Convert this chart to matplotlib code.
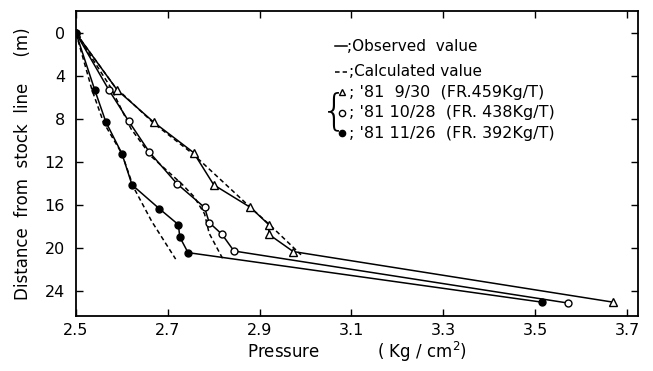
import numpy as np
import matplotlib.pyplot as plt

# observed values (pressure, distance)
obs_0930_p = [2.50, 2.59, 2.67, 2.756, 2.80, 2.88, 2.92, 2.92, 2.973, 3.669]
obs_0930_d = [0.0, 5.3, 8.3, 11.1, 14.1, 16.2, 17.8, 18.7, 20.3, 25.0]
obs_1028_p = [2.50, 2.571, 2.615, 2.66, 2.72, 2.78, 2.79, 2.818, 2.844, 3.572]
obs_1028_d = [0.0, 5.24, 8.2, 11.07, 14.0, 16.2, 17.6, 18.7, 20.25, 25.09]
obs_1126_p = [2.50, 2.541, 2.565, 2.60, 2.622, 2.681, 2.723, 2.726, 2.744, 3.514]
obs_1126_d = [0.0, 5.3, 8.25, 11.2, 14.1, 16.3, 17.8, 18.95, 20.4, 25.0]

# calculated values
cal_0930_p = [2.50, 2.585, 2.67, 2.754, 2.88, 2.924, 2.99]
cal_0930_d = [0.0, 5.0, 8.4, 11.2, 16.2, 17.9, 20.6]
cal_1028_p = [2.50, 2.575, 2.62, 2.665, 2.73, 2.757, 2.78, 2.79, 2.82]
cal_1028_d = [0.0, 5.0, 8.9, 11.5, 14.0, 15.2, 16.8, 18.6, 21.0]
cal_1126_p = [2.50, 2.535, 2.56, 2.60, 2.625, 2.665, 2.717]
cal_1126_d = [0.0, 5.3, 8.3, 11.2, 14.3, 17.5, 21.0]

x_ticks = [2.5, 2.7, 2.9, 3.1, 3.3, 3.5, 3.7]
y_ticks = [0, 4, 8, 12, 16, 20, 24]

legend_rows = ["; '81  9/30  (FR.459Kg/T)",
               "; '81 10/28  (FR. 438Kg/T)",
               "; '81 11/26  (FR. 392Kg/T)"]

fig = plt.figure(figsize=(6.53, 3.71), dpi=100)
ax = fig.add_axes([0.1164, 0.148, 0.8606, 0.822])

lw = 1.1
dash = (0, (3, 2))
ax.plot(cal_0930_p, cal_0930_d, color="k", linewidth=lw, linestyle=dash)
ax.plot(cal_1028_p, cal_1028_d, color="k", linewidth=lw, linestyle=dash)
ax.plot(cal_1126_p, cal_1126_d, color="k", linewidth=lw, linestyle=dash)

ax.plot(obs_0930_p, obs_0930_d, color="k", linewidth=lw, marker="^",
        markersize=5.5, markerfacecolor="white", markeredgewidth=1.0)
ax.plot(obs_1028_p, obs_1028_d, color="k", linewidth=lw, marker="o",
        markersize=5, markerfacecolor="white", markeredgewidth=1.0)
ax.plot(obs_1126_p, obs_1126_d, color="k", linewidth=lw, marker="o",
        markersize=5, markerfacecolor="k")

ax.set_xlim(2.5, 3.724)
ax.set_ylim(26.3, -2.05)
ax.set_xticks(x_ticks)
ax.set_yticks(y_ticks)
ax.set_xticklabels([str(v) for v in x_ticks])
ax.tick_params(direction="in", top=True, right=True, length=5, width=1.0,
               labelsize=11.5)
ax.tick_params(axis="y", pad=8)
ax.tick_params(axis="x", pad=5)
for s in ax.spines.values():
    s.set_linewidth(1.3)

ax.set_xlabel("Pressure           ( Kg / cm$^{2}$)", fontsize=12, labelpad=1)
ax.set_ylabel("Distance  from  stock  line     (m)", fontsize=12, labelpad=9)

# legend drawn by hand, in data coordinates
ax.plot([3.064, 3.09], [1.2, 1.2], color="k", linewidth=lw)
ax.text(3.091, 1.2, ";Observed  value", fontsize=11, va="center")
ax.plot([3.064, 3.09], [3.6, 3.6], color="k", linewidth=lw, linestyle=dash)
ax.text(3.094, 3.6, ";Calculated value", fontsize=11, va="center")
row_y = [5.5, 7.4, 9.3]
ax.plot([3.08], [row_y[0]], marker="^", color="k", markersize=4.5,
        markerfacecolor="white")
ax.plot([3.08], [row_y[1]], marker="o", color="k", markersize=4.5,
        markerfacecolor="white")
ax.plot([3.08], [row_y[2]], marker="o", color="k", markersize=4.5)
for yy, txt in zip(row_y, legend_rows):
    ax.text(3.094, yy, txt, fontsize=11.5, va="center")
ax.text(3.062, 7.3, "{", fontsize=30, va="center", ha="center",
        family="DejaVu Sans", fontweight="ultralight")

fig.savefig("out.png", dpi=100)
